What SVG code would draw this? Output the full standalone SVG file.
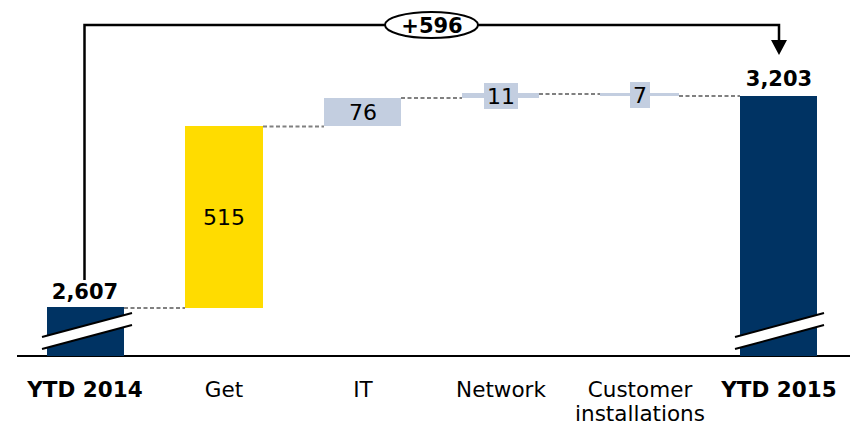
<svg xmlns="http://www.w3.org/2000/svg" width="858" height="426" viewBox="0 0 858 426">
  <style>
    text { font-family: "DejaVu Sans", Verdana, sans-serif; fill: #000; }
    .cat { font-size: 21.5px; text-anchor: middle; }
    .bold { font-weight: bold; }
    .val { font-size: 22px; text-anchor: middle; }
    .tot { font-size: 21px; text-anchor: middle; font-weight: bold; }
    .navy { fill: #003363; }
    .gold { fill: #FFDC00; }
    .delta { fill: #C3CEE0; }
    .dash { stroke: #808080; stroke-width: 2; stroke-dasharray: 4 2.5; fill: none; }
    .brk { stroke: #000; stroke-width: 2; }
  </style>

  <!-- axis -->
  <line x1="17" y1="356" x2="850" y2="356" stroke="#000" stroke-width="2"/>

  <!-- connectors -->
  <g id="connectors">
    <line class="dash" x1="124" y1="308" x2="185" y2="308"/>
    <line class="dash" x1="263" y1="126.5" x2="324" y2="126.5"/>
    <line class="dash" x1="401" y1="98" x2="462" y2="98"/>
    <line class="dash" x1="539" y1="94" x2="600" y2="94"/>
    <line class="dash" x1="679" y1="96" x2="740" y2="96"/>
    <!-- total change bracket -->
    <path d="M84.5,280 L84.5,25 L779,25 L779,40" fill="none" stroke="#000" stroke-width="2.5"/>
    <path d="M771,40 L787,40 L779,55 Z" fill="#000"/>
  </g>

  <!-- YTD 2014 -->
  <g id="ytd2014">
    <rect class="navy" x="47" y="307" width="77" height="49"/>
    <polygon points="42,337 132,313 132,325 42,349" fill="#fff"/>
    <line class="brk" x1="42" y1="337" x2="132" y2="313"/>
    <line class="brk" x1="42" y1="349" x2="132" y2="325"/>
    <text class="tot" x="85" y="299">2,607</text>
    <text class="cat bold" x="85" y="397">YTD 2014</text>
  </g>

  <!-- Get -->
  <g id="get">
    <rect class="gold" x="185" y="126" width="78" height="182"/>
    <text class="val" x="224" y="225">515</text>
    <text class="cat" x="224" y="397">Get</text>
  </g>

  <!-- IT -->
  <g id="it">
    <rect class="delta" x="324" y="98" width="77" height="28"/>
    <text class="val" x="363" y="120">76</text>
    <text class="cat" x="363" y="397">IT</text>
  </g>

  <!-- Network -->
  <g id="network">
    <rect class="delta" x="462" y="93" width="77" height="5"/>
    <rect class="delta" x="484" y="83" width="34" height="26"/>
    <text class="val" x="501" y="104">11</text>
    <text class="cat" x="501" y="397">Network</text>
  </g>

  <!-- Customer installations -->
  <g id="customer">
    <rect class="delta" x="600" y="93" width="79" height="3"/>
    <rect class="delta" x="630" y="82" width="20" height="26"/>
    <text class="val" x="640" y="103">7</text>
    <text class="cat" x="640" y="397">Customer</text>
    <text class="cat" x="640" y="421">installations</text>
  </g>

  <!-- YTD 2015 -->
  <g id="ytd2015">
    <rect class="navy" x="740" y="96" width="77" height="260"/>
    <polygon points="735,337 824,313 824,325 735,349" fill="#fff"/>
    <line class="brk" x1="735" y1="337" x2="824" y2="313"/>
    <line class="brk" x1="735" y1="349" x2="824" y2="325"/>
    <text class="tot" x="779" y="86">3,203</text>
    <text class="cat bold" x="779" y="397">YTD 2015</text>
  </g>

  <!-- total change label -->
  <g id="delta-total">
    <ellipse cx="431.5" cy="25" rx="46.5" ry="13" fill="#fff" stroke="#000" stroke-width="2"/>
    <text class="tot" x="432" y="32.5">+596</text>
  </g>
</svg>
